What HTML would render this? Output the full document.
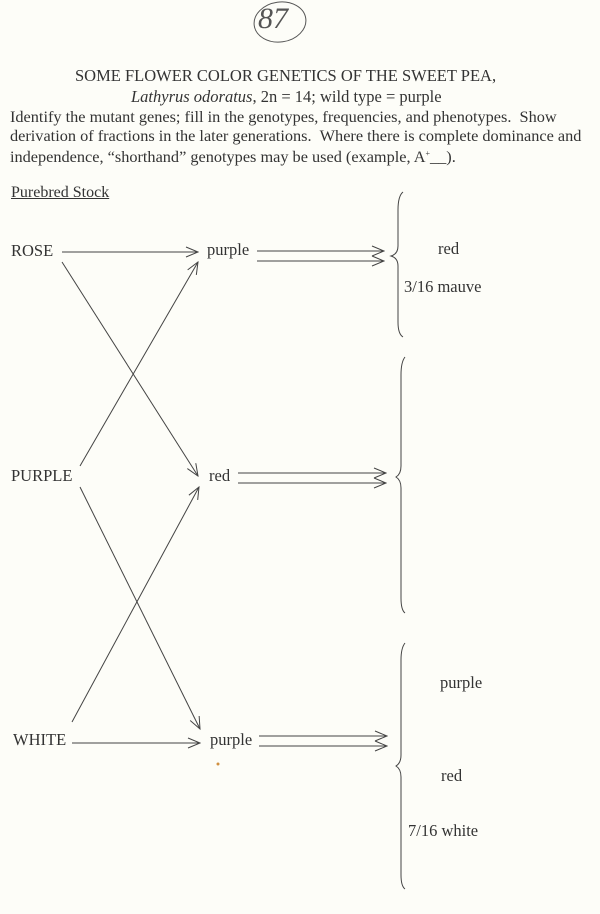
<!DOCTYPE html>
<html><head><style>
html,body{margin:0;padding:0;background:#fdfdf8;}
body{width:600px;height:914px;position:relative;overflow:hidden;font-family:"Liberation Serif",serif;color:#333;}
.t{position:absolute;white-space:nowrap;}
.l{font-size:16.5px;}
svg{position:absolute;left:0;top:0;}
</style></head><body>
<svg width="600" height="914" viewBox="0 0 600 914">
<defs>
<marker id="a" markerWidth="14" markerHeight="12" refX="13" refY="6" orient="auto" markerUnits="userSpaceOnUse">
<path d="M1,1 L13,6 L1,11" fill="none" stroke="#444" stroke-width="1"/>
</marker>
</defs>
<g stroke="#444" stroke-width="1" fill="none">
<ellipse cx="280" cy="22" rx="26" ry="20" transform="rotate(-8 280 22)" stroke="#555"/>
<line x1="62" y1="252" x2="198" y2="252" marker-end="url(#a)"/>
<line x1="62" y1="262" x2="198" y2="476" marker-end="url(#a)"/>
<line x1="80" y1="466" x2="198" y2="262" marker-end="url(#a)"/>
<line x1="80" y1="487" x2="200" y2="729" marker-end="url(#a)"/>
<line x1="72" y1="722" x2="199" y2="487" marker-end="url(#a)"/>
<line x1="72" y1="743" x2="200" y2="743" marker-end="url(#a)"/>
<line x1="257" y1="251" x2="384" y2="251" marker-end="url(#a)"/>
<line x1="257" y1="261" x2="384" y2="261" marker-end="url(#a)"/>
<line x1="238" y1="473" x2="386" y2="473" marker-end="url(#a)"/>
<line x1="238" y1="483" x2="386" y2="483" marker-end="url(#a)"/>
<line x1="259" y1="736" x2="387" y2="736" marker-end="url(#a)"/>
<line x1="259" y1="746" x2="387" y2="746" marker-end="url(#a)"/>
<path d="M403,192 Q398,196 398,210 L398,246 Q398,254 391,256 Q398,258 398,266 L398,322 Q398,334 403,337"/>
<path d="M405,357 Q401,362 401,375 L401,466 Q401,474 396,477 Q401,480 401,488 L401,598 Q401,610 405,613"/>
<path d="M405,643 Q401,648 401,660 L401,755 Q401,763 396,766 Q401,769 401,777 L401,875 Q401,886 405,889"/>
</g>
<circle cx="218" cy="764" r="1.5" fill="#d09040"/>
</svg>
<div class="t" style="left:258px;top:2px;font-size:30px;font-style:italic;color:#555;">87</div>
<div class="t" style="left:75px;top:66px;font-size:16.5px;">SOME FLOWER COLOR GENETICS OF THE SWEET PEA,</div>
<div class="t" style="left:131px;top:87px;font-size:16.5px;"><i>Lathyrus odoratus</i>, 2n = 14; wild type = purple</div>
<div class="t" style="left:10px;top:108px;font-size:16.3px;line-height:18.5px;">Identify the mutant genes; fill in the genotypes, frequencies, and phenotypes. &nbsp;Show<br>derivation of fractions in the later generations. &nbsp;Where there is complete dominance and<br>independence, “shorthand” genotypes may be used (example, A<span style="font-size:8px;vertical-align:6px">+</span>__).</div>
<div class="t" style="left:11px;top:184px;font-size:16px;text-decoration:underline;">Purebred Stock</div>
<div class="t l" style="left:11px;top:241px;">ROSE</div>
<div class="t l" style="left:11px;top:466px;">PURPLE</div>
<div class="t l" style="left:13px;top:730px;">WHITE</div>
<div class="t l" style="left:207px;top:240px;">purple</div>
<div class="t l" style="left:209px;top:466px;">red</div>
<div class="t l" style="left:210px;top:730px;">purple</div>
<div class="t l" style="left:438px;top:239px;">red</div>
<div class="t l" style="left:404px;top:277px;">3/16 mauve</div>
<div class="t l" style="left:440px;top:673px;">purple</div>
<div class="t l" style="left:441px;top:766px;">red</div>
<div class="t l" style="left:408px;top:821px;">7/16 white</div>
</body></html>
